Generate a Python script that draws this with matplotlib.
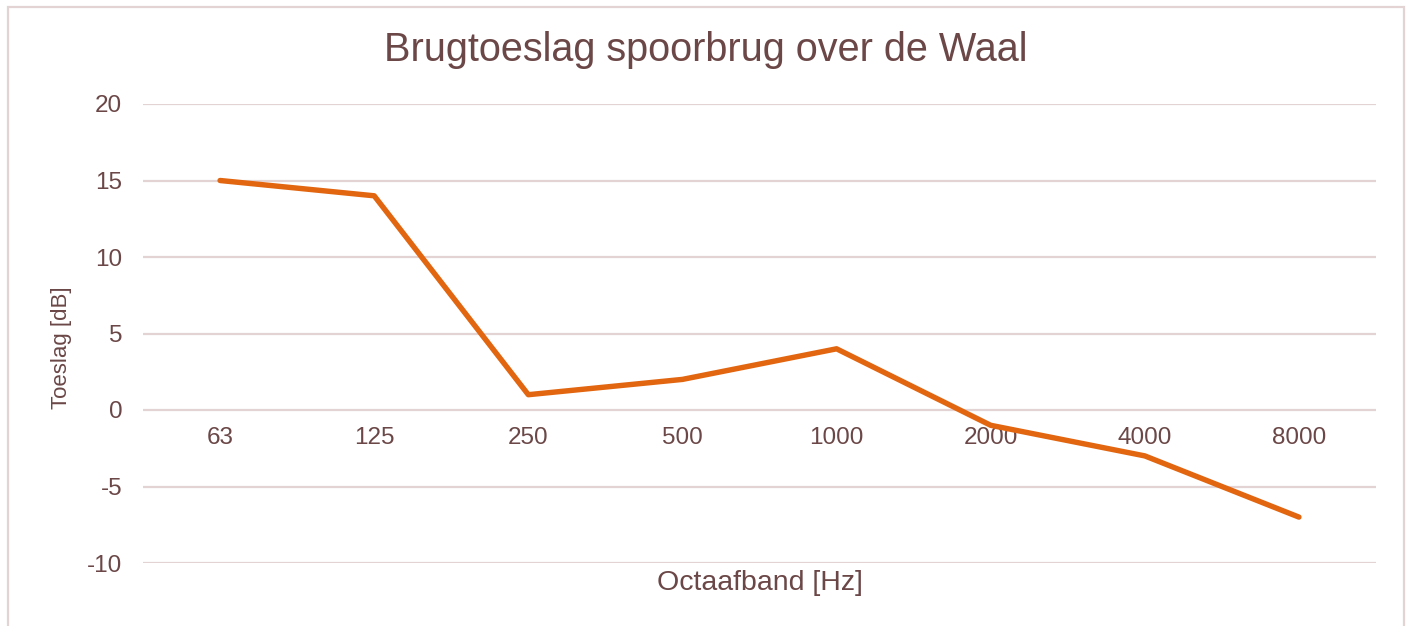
import matplotlib
matplotlib.use("Agg")
import matplotlib.pyplot as plt
from matplotlib.patches import Rectangle

bands = ["63", "125", "250", "500", "1000", "2000", "4000", "8000"]
toeslag = [15, 14, 1, 2, 4, -1, -3, -7]
y_ticks = [-10, -5, 0, 5, 10, 15, 20]

text_color = "#6b4747"
grid_color = "#e3d3d3"
line_color = "#e2650f"

plt.rcParams["font.family"] = ["Liberation Sans", "DejaVu Sans"]

W, H = 1408, 626
fig = plt.figure(figsize=(W / 100, H / 100), dpi=100)
fig.patch.set_facecolor("white")

# chart frame
fig.patches.append(Rectangle((8 / W, -0.05), (1404 - 8) / W, 1.05 - 7 / H,
                             transform=fig.transFigure, fill=False,
                             edgecolor=grid_color, linewidth=1.6))

ax = fig.add_axes([143 / W, 1 - 563 / H, (1376 - 143) / W, (563 - 104) / H])
x = list(range(len(bands)))
ax.plot(x, toeslag, color=line_color, linewidth=3.9, solid_capstyle="round",
        solid_joinstyle="round", zorder=3)

ax.set_xlim(-0.5, len(bands) - 0.5)
ax.set_ylim(-10, 20)
ax.set_yticks(y_ticks)
ax.set_yticklabels([str(v) for v in y_ticks])
ax.yaxis.grid(True, color=grid_color, linewidth=1.6)
ax.set_axisbelow(True)

# category labels sit along the zero line
ax.spines["bottom"].set_position(("data", 0))
ax.set_xticks(x)
ax.set_xticklabels(bands)
for s in ["top", "right", "left", "bottom"]:
    ax.spines[s].set_visible(False)
ax.tick_params(axis="both", length=0, labelsize=17.5, labelcolor=text_color)
ax.tick_params(axis="x", pad=12)
ax.tick_params(axis="y", pad=15)

fig.text(62 / W, 1 - 348 / H, "Toeslag [dB]", rotation=90, ha="center",
         va="center", fontsize=16, color=text_color)
fig.text(759.5 / W, 1 - 583 / H, "Octaafband [Hz]", ha="center", va="center",
         fontsize=20.5, color=text_color)
fig.text(706 / W, 1 - 50 / H, "Brugtoeslag spoorbrug over de Waal", ha="center",
         va="center", fontsize=28.5, color=text_color)

fig.savefig("out.png", dpi=100, facecolor="white")
